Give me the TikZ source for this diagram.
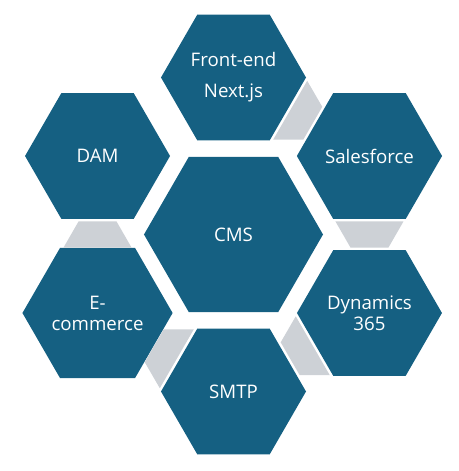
\documentclass[tikz,border=0pt]{standalone}
\usepackage{fontspec}
\setmainfont{Open Sans}
\usetikzlibrary{shapes.geometric,calc}
\definecolor{hexblue}{RGB}{21,96,130}
\definecolor{linkgray}{RGB}{205,209,214}
\newcommand{\hexlink}[2]{%
  \fill[linkgray] ($(#1.center)!0.417!(#2.center)!25.5pt!90:(#2.center)$)
    -- ($(#1.center)!0.417!(#2.center)!25.5pt!-90:(#2.center)$)
    -- ($(#1.center)!0.583!(#2.center)!14.25pt!-90:(#2.center)$)
    -- ($(#1.center)!0.583!(#2.center)!14.25pt!90:(#2.center)$) -- cycle;}

\begin{document}
\begin{tikzpicture}[x=0.75pt,y=0.75pt,
  hex/.style={regular polygon,regular polygon sides=6,fill=hexblue,text=white,
    inner sep=0pt,outer sep=0pt,minimum size=108.75pt,align=center,
    font=\fontsize{14}{15.75}\selectfont}]
\useasboundingbox (-233.5,-236.5) rectangle (225.5,234.5);
\node[hex,minimum size=134.25pt] (cms) at (0,0) {CMS};
\node[hex] (front) at (90:157) {Front-end\\[7.5pt]Next.js};
\node[hex] (sales) at (30:157) {Salesforce};
\node[hex] (dyn) at (-30:157) {Dynamics\\365};
\node[hex] (smtp) at (-90:157) {SMTP};
\node[hex] (ecom) at (-150:157) {E-\\commerce};
\node[hex] (dam) at (150:157) {DAM};
\hexlink{front}{sales}
\hexlink{sales}{dyn}
\hexlink{dyn}{smtp}
\hexlink{smtp}{ecom}
\hexlink{ecom}{dam}
\end{tikzpicture}
\end{document}
